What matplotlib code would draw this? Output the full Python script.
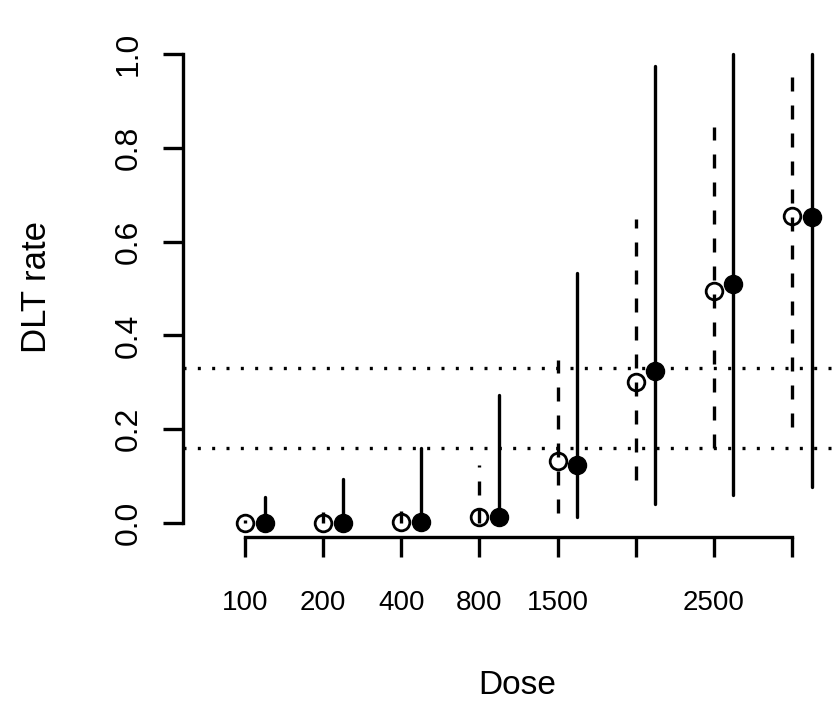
import matplotlib
matplotlib.use("Agg")
import matplotlib.pyplot as plt
import numpy as np

plt.rcParams['font.family'] = ['Liberation Sans', 'DejaVu Sans']

# dose levels (tick labels, some suppressed as in the original)
dose_labels = ["100", "200", "400", "800", "1500", "", "2500", ""]

# open circles / dashed intervals
open_est = [0.0, 0.0, 0.003, 0.013, 0.132, 0.300, 0.495, 0.655]
open_lo = [0.0, 0.0, 0.0, 0.0, 0.021, 0.092, 0.160, 0.205]
open_hi = [0.006, 0.023, 0.026, 0.124, 0.348, 0.648, 0.844, 0.953]

# filled circles / solid intervals
fill_est = [0.0, 0.0, 0.003, 0.013, 0.124, 0.324, 0.510, 0.652]
fill_lo = [0.0, 0.0, 0.0, 0.0, 0.013, 0.041, 0.060, 0.077]
fill_hi = [0.055, 0.094, 0.160, 0.273, 0.533, 0.974, 1.0, 1.0]

# reference lines
target_lines = [0.16, 0.33]

W, H = 836, 703
fig = plt.figure(figsize=(W / 100, H / 100), dpi=100)
ax = fig.add_axes([183 / W, (H - 537) / H, (W - 183) / W, 517 / H])

xpos = np.arange(1, len(dose_labels) + 1)
shift = 0.25

lw = 2.4
for yl in target_lines:
    ax.axhline(yl, color="black", lw=lw, linestyle=(0, (0.9, 3.4)), zorder=1)

dashed = ax.vlines(xpos, open_lo, open_hi, colors="black", linewidth=lw,
                   linestyles=[(0, (4.2, 4.2))], zorder=2)
solid = ax.vlines(xpos + shift, fill_lo, fill_hi, colors="black", linewidth=lw, zorder=2)
solid.set_capstyle("round")

ax.plot(xpos, open_est, "o", mfc="none", mec="black", ms=12, mew=2, zorder=3, clip_on=False)
ax.plot(xpos + shift, fill_est, "o", mfc="black", mec="black", ms=13, zorder=3, clip_on=False)

ax.set_xlim(1 - 62 / 78.14, 1 + (W - 245) / 78.14)
ax.set_ylim(-14 / 469, 1 + 34 / 469)

for s in ["top", "right"]:
    ax.spines[s].set_visible(False)
ax.spines["left"].set_bounds(0, 1)
ax.spines["bottom"].set_bounds(1, 8)
for s in ["left", "bottom"]:
    ax.spines[s].set_linewidth(lw)

ax.set_xticks(xpos)
ax.set_xticklabels(dose_labels, fontsize=20)
ax.set_yticks([0.0, 0.2, 0.4, 0.6, 0.8, 1.0])
ax.set_yticklabels(["0.0", "0.2", "0.4", "0.6", "0.8", "1.0"], fontsize=23,
                   rotation=90, va="center")
ax.tick_params(axis="both", direction="out", length=14.5, width=lw)
ax.tick_params(axis="x", pad=24)
ax.tick_params(axis="y", pad=14)

fig.text(517 / W, 1 - 686 / H, "Dose", fontsize=24, ha="center", va="center")
fig.text(36 / W, 1 - 287 / H, "DLT rate", fontsize=25, ha="center", va="center",
         rotation=90)

fig.savefig("out.png", dpi=100)
